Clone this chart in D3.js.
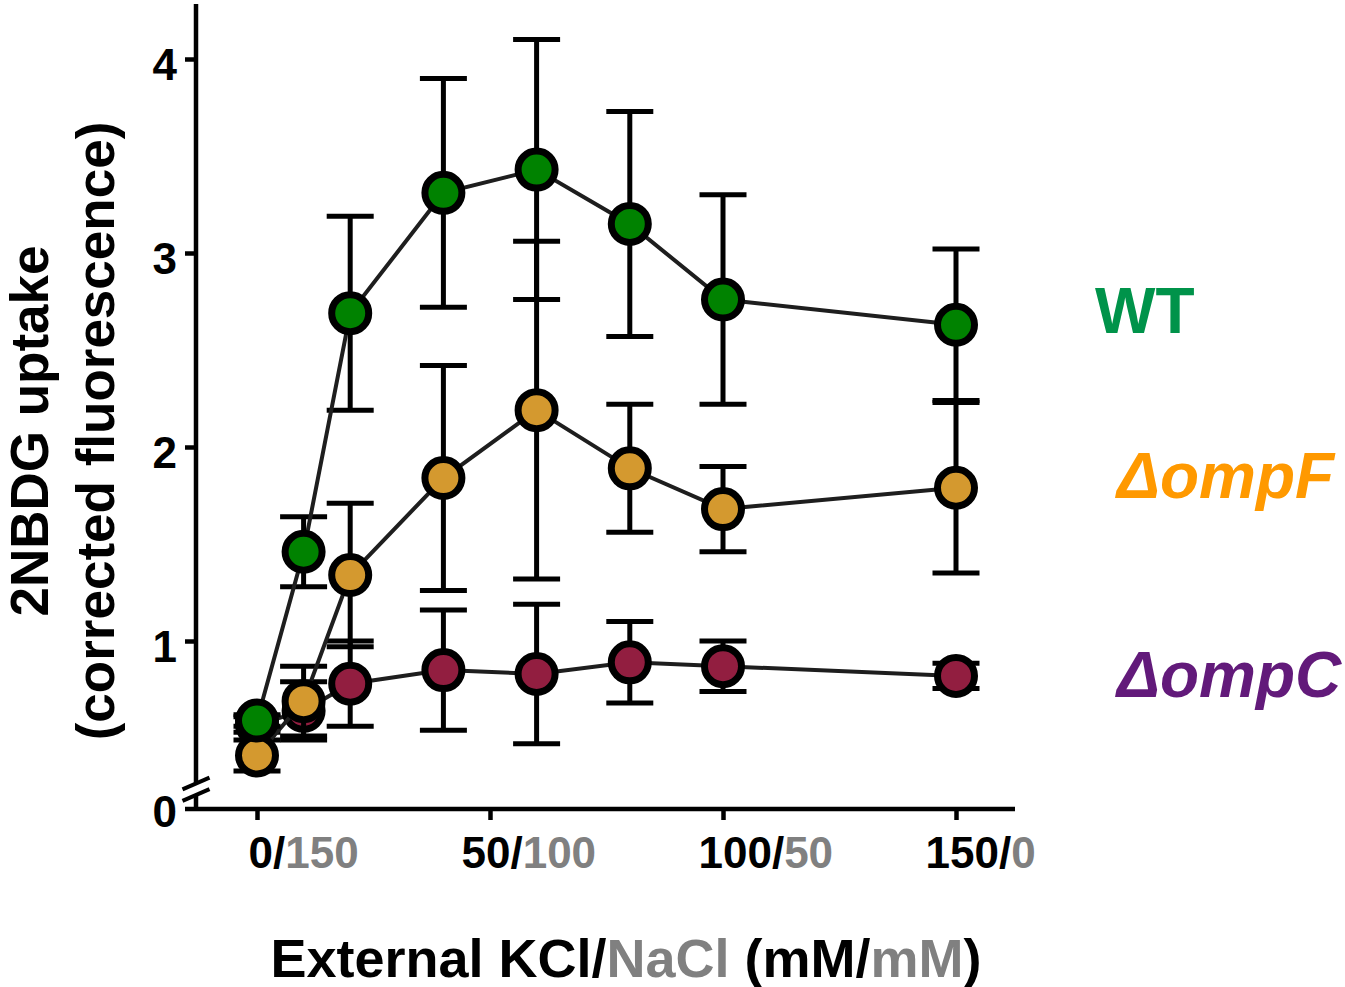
<!DOCTYPE html>
<html>
<head>
<meta charset="utf-8" />
<title>2NBDG uptake vs external KCl/NaCl</title>
<script src="https://cdn.jsdelivr.net/npm/d3@7"></script>
<style>
    body { margin: 0; background: #fff; }
    svg text { font-family: "Liberation Sans", Arial, sans-serif; font-weight: bold; }
</style>
</head>
<body>
<svg id="chart" width="1345" height="987"></svg>
<script>
// external KCl (mM); NaCl = 150 - KCl
var kcl = [0, 10, 20, 40, 60, 80, 100, 150];

var wtMean = [0.59, 1.46, 2.69, 3.31, 3.43, 3.15, 2.76, 2.63];
var wtErr  = [0.03, 0.18, 0.50, 0.59, 0.67, 0.58, 0.54, 0.39];

var ompFMean = [0.41, 0.69, 1.34, 1.84, 2.19, 1.89, 1.68, 1.79];
var ompFErr  = [0.08, 0.18, 0.37, 0.58, 0.87, 0.33, 0.22, 0.44];

var ompCMean = [0.57, 0.64, 0.78, 0.85, 0.83, 0.89, 0.87, 0.82];
var ompCErr  = [0.04, 0.15, 0.22, 0.31, 0.36, 0.21, 0.13, 0.065];

var xTickKcl  = [0, 50, 100, 150];
var xTickNacl = ["150", "100", "50", "0"];
var yTicks = [1, 2, 3, 4];

// layout
var axisX = 196, axisY = 809, axisLeft = 185, axisRight = 1015, axisTop = 4;
var labelShift = [-9, -29, -25, -31];

var svg = d3.select("#chart");

var x = d3.scaleLinear().domain([0, 150]).range([257, 956]);
var y = d3.scaleLinear().domain([1, 4]).range([641, 59]);

// series, drawn back to front
var series = [
    {name: "ompC", mean: ompCMean, err: ompCErr, fill: "#921e40"},
    {name: "ompF", mean: ompFMean, err: ompFErr, fill: "#d4992f"},
    {name: "WT",   mean: wtMean,   err: wtErr,   fill: "#008200"}
];

// x axis
var gx = svg.append("g")
    .attr("transform", "translate(0," + axisY + ")")
    .call(d3.axisBottom(x).tickValues(xTickKcl).tickSize(11).tickSizeOuter(0).tickFormat(""));
gx.select(".domain").attr("d", "M" + axisLeft + ",0H" + axisRight);
gx.selectAll("path, line").attr("stroke", "#000").attr("stroke-width", 4.5);

gx.selectAll(".tick").each(function(d, i) {
    var t = d3.select(this).append("text")
        .attr("x", labelShift[i])
        .attr("y", 59)
        .attr("text-anchor", "start")
        .attr("font-size", 44)
        .attr("fill", "#000");
    t.append("tspan").text(d + "/");
    t.append("tspan").attr("fill", "#808080").text(xTickNacl[i]);
});

// y axis (broken near 0)
var gy = svg.append("g")
    .attr("transform", "translate(" + axisX + ",0)")
    .call(d3.axisLeft(y).tickValues(yTicks).tickFormat(d3.format("d"))
        .tickSize(11).tickPadding(8).tickSizeOuter(0));
gy.select(".domain").remove();
gy.selectAll("line").attr("stroke", "#000").attr("stroke-width", 4.5);
gy.selectAll("text").attr("font-size", 44).attr("dy", "0.47em").attr("fill", "#000");

var breakTop = 783.5, breakBottom = 795;
gy.append("line").attr("x1", 0).attr("x2", 0).attr("y1", axisTop).attr("y2", breakTop)
    .attr("stroke", "#000").attr("stroke-width", 4.5);
gy.append("line").attr("x1", 0).attr("x2", 0).attr("y1", breakBottom).attr("y2", axisY)
    .attr("stroke", "#000").attr("stroke-width", 4.5);
[breakTop, breakBottom].forEach(function(by) {
    gy.append("line")
        .attr("x1", -13.5).attr("y1", by + 5.8)
        .attr("x2", 13.5).attr("y2", by - 5.8)
        .attr("stroke", "#000").attr("stroke-width", 4);
});
gy.append("text")
    .attr("x", -19).attr("y", axisY)
    .attr("dy", "0.4em")
    .attr("text-anchor", "end")
    .attr("font-size", 44)
    .attr("fill", "#000")
    .text("0");

// data
var line = d3.line()
    .x(function(d) { return x(d.k); })
    .y(function(d) { return y(d.m); });

series.forEach(function(s) {
    var pts = kcl.map(function(k, i) { return {k: k, m: s.mean[i], e: s.err[i]}; });
    var g = svg.append("g").attr("class", "series-" + s.name);

    var eb = g.selectAll(".err").data(pts).enter().append("g").attr("class", "err")
        .attr("stroke", "#000").attr("stroke-width", 5);
    eb.append("line")
        .attr("x1", function(d) { return x(d.k); })
        .attr("x2", function(d) { return x(d.k); })
        .attr("y1", function(d) { return y(d.m + d.e); })
        .attr("y2", function(d) { return y(d.m - d.e); });
    eb.append("line")
        .attr("x1", function(d) { return x(d.k) - 23.5; })
        .attr("x2", function(d) { return x(d.k) + 23.5; })
        .attr("y1", function(d) { return y(d.m + d.e); })
        .attr("y2", function(d) { return y(d.m + d.e); });
    eb.append("line")
        .attr("x1", function(d) { return x(d.k) - 23.5; })
        .attr("x2", function(d) { return x(d.k) + 23.5; })
        .attr("y1", function(d) { return y(d.m - d.e); })
        .attr("y2", function(d) { return y(d.m - d.e); });

    g.append("path")
        .datum(pts)
        .attr("d", line)
        .attr("fill", "none")
        .attr("stroke", "#1e1e1e")
        .attr("stroke-width", 4);

    g.selectAll("circle").data(pts).enter().append("circle")
        .attr("cx", function(d) { return x(d.k); })
        .attr("cy", function(d) { return y(d.m); })
        .attr("r", 18.5)
        .attr("fill", s.fill)
        .attr("stroke", "#000")
        .attr("stroke-width", 7);
});

// axis titles
var yTitle = svg.append("g").attr("transform", "translate(0,431) rotate(-90)")
    .attr("text-anchor", "middle").attr("font-size", 53).attr("fill", "#000");
yTitle.append("text").attr("y", 48).text("2NBDG uptake");
yTitle.append("text").attr("y", 114).text("(corrected fluorescence)");

var xTitle = svg.append("text")
    .attr("x", 626).attr("y", 977)
    .attr("text-anchor", "middle")
    .attr("font-size", 54)
    .attr("fill", "#000");
xTitle.append("tspan").text("External KCl/");
xTitle.append("tspan").attr("fill", "#808080").text("NaCl");
xTitle.append("tspan").text(" (mM/");
xTitle.append("tspan").attr("fill", "#808080").text("mM");
xTitle.append("tspan").text(")");

// strain labels
svg.append("text").attr("x", 1095).attr("y", 333).attr("font-size", 64)
    .attr("fill", "#00934a").text("WT");
svg.append("text").attr("x", 1117).attr("y", 498).attr("font-size", 64)
    .attr("font-style", "italic").attr("fill", "#ff9900").text("\u0394ompF");
svg.append("text").attr("x", 1117).attr("y", 697).attr("font-size", 64)
    .attr("font-style", "italic").attr("fill", "#621a7a").text("\u0394ompC");
</script>
</body>
</html>
